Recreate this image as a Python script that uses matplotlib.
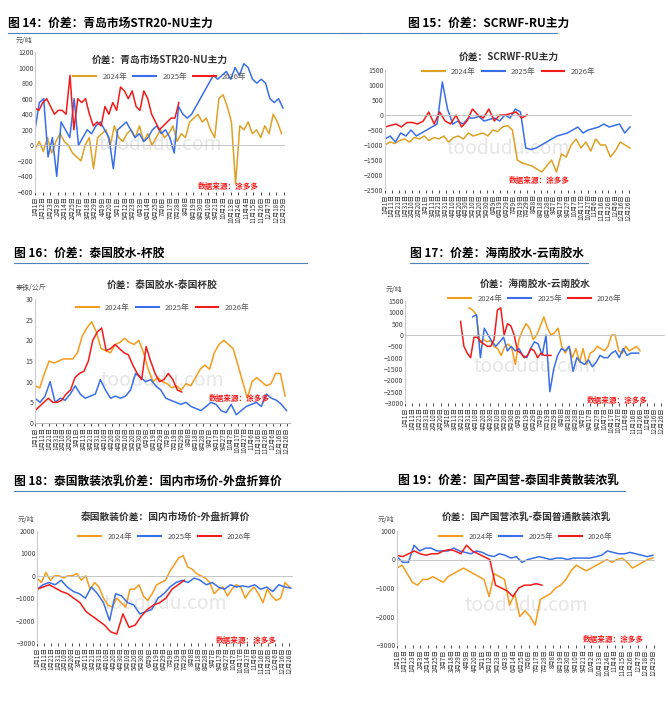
import numpy as np
import pandas as pd
import matplotlib
matplotlib.use("Agg")
import matplotlib.pyplot as plt

plt.rcParams['font.family'] = ['Noto Sans CJK SC', 'DejaVu Sans']

# ---------------- data ----------------
# panel 14: 青岛市场STR20-NU主力 (元/吨)
p14_2024 = [-50, 50, -80, 100, -100, 50, 150, 50, 0, -100, -150, -200, 0, 100, -300, 100, 150, 200, 0, 250,
            100, 50, 150, 200, 100, 250, 50, 150, 0, 100, 200, 100, 150, 250, 50, 150, 100, 300, 350, 400,
            300, 350, 200, 100, 600, 650, 500, 300, -500, 250, 200, 300, 150, 200, 100, 250, 150, 400, 300, 150]
p14_2025 = [200, 550, 600, -150, 100, -400, 300, 200, 100, 600, 0, 100, 200, 150, 250, 300, 200, 100, -300, 200,
            250, 300, 200, 100, 150, 50, 100, 200, 250, 150, 200, 100, -100, 500, 400, 350, 400, 500, 600, 700,
            800, 900, 850, 900, 950, 850, 1000, 900, 1050, 1000, 850, 800, 850, 800, 600, 550, 600, 480]
p14_2026 = [480, 450, 550, 600, 500, 400, 450, 450, 400, 900, 200, 600, 550, 600, 400, 250, 300, 250, 500, 400,
            550, 450, 750, 700, 600, 700, 500, 450, 700, 600, 400, 300, 200, 250, 300, 350, 350, 550]

# panel 15: SCRWF-RU主力
p15_2024 = [-1000, -900, -950, -850, -800, -900, -750, -800, -700, -850, -750, -800, -700, -900, -750, -700,
            -800, -600, -700, -650, -600, -700, -500, -550, -400, -350, -500, -1500, -1600, -1650, -1700,
            -1800, -1900, -1700, -1500, -1900, -1300, -1400, -1000, -800, -1100, -900, -1200, -800, -1000,
            -1000, -1400, -1200, -900, -1000, -1100]
p15_2025 = [-800, -700, -900, -600, -700, -500, -700, -600, -500, -400, -300, 1100, 200, -300, -200, -300,
            -100, -100, -50, -200, -150, -100, -200, 0, -100, 200, 100, -1100, -1150, -1100, -1000, -900,
            -800, -700, -650, -600, -500, -400, -600, -500, -450, -400, -300, -400, -350, -300, -600, -400]
p15_2026 = [-400, -350, -300, -400, -250, -250, -300, -200, 100, -300, 100, -200, -300, 0, -400, -200, 200,
            0, -100, 200, -200, 0, 0, 50, 100, -100, 0]

# panel 16: 泰国胶水-杯胶 (泰铢/公斤)
p16_2024 = [9, 8.5, 12, 15, 14.5, 15, 15.5, 15.5, 15.5, 17, 21, 23, 24.5, 22, 18, 17.5, 17, 19, 19.5, 20.5,
            19.5, 19, 20, 17, 13, 10, 11, 10, 9.5, 8.5, 9, 8, 9.5, 9, 11, 13, 14, 13, 17, 19, 20, 19, 18, 14,
            10, 6, 10, 11, 10, 9, 9.5, 12, 12, 6.5]
p16_2025 = [6, 5, 6.5, 10, 5, 6, 5.5, 7, 9, 7, 6, 6.5, 7, 10.5, 8, 6, 6.5, 6, 6.5, 8, 12, 11, 10, 10.5, 9, 8,
            6, 5.5, 5, 4.5, 5, 4, 3.5, 3, 4, 5, 4.5, 3, 2.5, 4.5, 2, 3, 4, 4.5, 5, 4, 7, 6, 5.5, 4.5, 3]
p16_2026 = [3, 4, 5, 6, 5, 5, 5.5, 7, 8, 11, 12, 12.5, 15, 20, 22, 23, 17.5, 18, 19, 18, 17, 16.5, 14, 12,
            10.5, 18.5, 15, 12, 10, 10.5, 12, 10.5, 8, 7.5]

# panel 17: 海南胶水-云南胶水
p17_2024 = [1200, 1100, 900, -300, -200, -300, -250, -500, -600, -900, -500, -400, -600, -1300, -200, 200,
            500, 300, -200, 0, 400, 800, 300, 0, 100, 300, -500, -800, -500, -1000, -600, -1200, -600, -1300,
            -800, -700, -500, -600, -700, -500, 0, 0, -700, -800, -500, -700, -600, -500, -700]
p17_2025 = [800, 900, -1000, 300, 0, -300, -500, -300, -100, -700, -500, -700, -600, -900, -1000, -600, -300,
            -400, -900, 0, -2500, -1500, -900, -600, -700, -500, -1600, -1000, -1200, -1300, -1100, -1400,
            -1200, -900, -1000, -1000, -800, -700, -1000, -600, -900, -800, -800, -800]
p17_2026 = [600, -500, -800, -1000, -100, -100, -300, -400, -500, -500, -200, 1100, 1200, 0, 500, 400, 0,
            -700, -800, -1000, -900, -600, -700, -1000, -800, -900, -900, -900]

# panel 18: 泰国散装价差
p18_2024 = [-100, -300, 150, -200, 0, 0, -100, 0, 0, 100, -200, 0, -600, -300, -500, -1000, -1300, -1400,
            -1000, -1200, -1400, -600, -600, -400, -900, -1100, -800, -400, -300, -200, 200, 500, 800, 900,
            400, 300, 100, 0, -100, -300, -800, -600, -500, -900, -600, -400, -500, -1000, -700, -500, -800,
            -1200, -600, -900, -1100, -1000, -300, -500]
p18_2025 = [-600, -400, -300, -400, -200, -500, -700, -800, -1000, -500, -800, -1200, -2000, -800, -900,
            -1200, -1300, -1700, -1600, -1500, -1000, -800, -500, -300, -200, -300, -100, -200, -400, -300,
            -500, -600, -400, -500, -450, -500, -400, -600, -500, -700, -400, -500, -550]
p18_2026 = [-600, -500, -400, -550, -700, -800, -1000, -1200, -1600, -1800, -2000, -2200, -2500, -2600,
            -1700, -2300, -2200, -1800, -1500, -1300, -1200, -1000, -600, -400, -200]

# panel 19: 国产国营-泰国非黄散装浓乳
p19_2024 = [-300, -200, -500, -800, -900, -700, -700, -600, -700, -800, -600, -500, -400, -300, -400, -500,
            -600, -700, -1300, -500, -600, -700, -1600, -1200, -2000, -1800, -2000, -2300, -1400, -1300,
            -1200, -1000, -900, -700, -400, -200, -300, -400, -300, -200, -100, 0, -100, 0, 50, -100, -300,
            -200, -100, 0, 50]
p19_2025 = [100, -100, -100, 500, 300, 400, 400, 300, 300, 300, 400, 300, 250, 200, 300, 250, 150, 100, 200,
            150, 50, 100, -100, 0, 50, 100, 50, 0, 50, 50, 0, 50, 50, 50, 50, 100, 150, 300, 250, 200, 200,
            250, 200, 150, 100, 150]
p19_2026 = [150, 100, 200, 300, 200, 150, 200, 200, 300, 350, 300, 200, 500, 300, 200, 100, 0, -900, -1000,
            -1100, -1300, -1000, -900, -900, -850, -900]

ORANGE = '#F39C1E'
GOLD = '#DDA125'
BLUE = '#3A6FE8'
RED = '#F21B1B'

fig = plt.figure(figsize=(6.68, 7.12), dpi=100)
H = 712.0
W = 668.0


def R(l, t, r, b):
    return [l / W, 1 - b / H, (r - l) / W, (b - t) / H]


def date_labels(step):
    days = pd.date_range('2024-01-01', '2024-12-31', freq=f'{step}D')
    return days.dayofyear.values - 1, [f'{d.month}月{d.day}日' for d in days]


def panel(rect, head, head_xy, line_x, inner, title_y, leg_y, ylim, yticks, series, step,
          unit=None, src_xy=(0.62, 0.05)):
    fig.text(head_xy[0] / W, 1 - head_xy[1] / H, head, fontsize=8.5, fontweight='bold', va='bottom')
    fig.add_artist(plt.Line2D([line_x[0] / W, line_x[1] / W], [1 - (head_xy[1] + 3) / H] * 2,
                              color='#4F81BD', lw=0.8))
    ax = fig.add_axes(rect)
    for vals, start, end, col in series:
        x = np.linspace(start, end, len(vals))
        ax.plot(x, vals, color=col, lw=1.1)
    ax.set_xlim(0, 365)
    ax.set_ylim(*ylim)
    ax.set_yticks(yticks)
    ax.tick_params(axis='y', labelsize=5, length=0, pad=1, colors='#444444')
    pos, labs = date_labels(step)
    ax.set_xticks(pos)
    ax.set_xticklabels(labs, rotation=90, fontsize=4.5, color='#333333')
    ax.tick_params(axis='x', length=2, pad=1, width=0.5)
    for s in ['top', 'right']:
        ax.spines[s].set_visible(False)
    ax.spines['left'].set_color('#cccccc')
    ax.spines['bottom'].set_color('#bbbbbb')
    if ylim[0] < 0 < ylim[1]:
        ax.axhline(0, color='#bbbbbb', lw=0.6)
        ax.spines['bottom'].set_visible(False)
    cx = (rect[0] + rect[2] / 2)
    fig.text(cx, 1 - title_y / H, inner, fontsize=7, fontweight='bold', color='#333333',
             ha='center', va='center')
    hs = [plt.Line2D([], [], color=c, lw=1.5) for c in (series[0][3], BLUE, RED)]
    ax.legend(hs, ['2024年', '2025年', '2026年'], loc='center', bbox_to_anchor=(cx, 1 - leg_y / H),
              bbox_transform=fig.transFigure, ncol=3, frameon=False, fontsize=5.5, handlelength=3,
              columnspacing=0.8, labelcolor='#555555')
    if unit:
        ax.annotate(unit, (0, 1), xycoords='axes fraction', xytext=(-14, 5),
                    textcoords='offset points', fontsize=5, color='#555555', ha='left', va='bottom')
    ax.text(0.5, 0.3, 'toodudu.com', transform=ax.transAxes, fontsize=14, color='#e6e6e6',
            ha='center', zorder=0)
    ax.text(src_xy[0], src_xy[1], '数据来源：涂多多', transform=ax.transAxes, fontsize=5.5,
            color=RED, style='italic', fontweight='bold')
    return ax


panel(R(35, 52, 285, 192), '图 14：价差：青岛市场STR20-NU主力', (8, 30), (8, 360),
      '价差：青岛市场STR20-NU主力', 60, 77, (-600, 1200), range(-600, 1201, 200),
      [(p14_2024, 0, 360, GOLD), (p14_2025, 0, 362, BLUE), (p14_2026, 0, 210, RED)], 11,
      unit='元/吨', src_xy=(0.65, 0.02))

panel(R(385, 70, 632, 190), '图 15：价差：SCRWF-RU主力', (408, 30), (340, 557),
      '价差：SCRWF-RU主力', 57, 72, (-2500, 1500), range(-2500, 1501, 500),
      [(p15_2024, 0, 362, GOLD), (p15_2025, 0, 362, BLUE), (p15_2026, 0, 210, RED)], 10,
      src_xy=(0.5, 0.06))

panel(R(35, 299, 290, 423), '图 16：价差：泰国胶水-杯胶', (14, 260), (14, 307),
      '价差：泰国胶水-泰国杯胶', 285, 308, (0, 30), range(0, 31, 5),
      [(p16_2024, 0, 358, ORANGE), (p16_2025, 0, 360, BLUE), (p16_2026, 0, 210, RED)], 10,
      unit='泰铢/公斤', src_xy=(0.68, 0.18))

panel(R(405, 301, 665, 403), '图 17：价差：海南胶水-云南胶水', (410, 260), (410, 588),
      '价差：海南胶水-云南胶水', 284, 299, (-3000, 1500), range(-3000, 1501, 500),
      [(p17_2024, 90, 330, ORANGE), (p17_2025, 95, 328, BLUE), (p17_2026, 78, 205, RED)], 10,
      unit='元/吨', src_xy=(0.7, 0.0))

panel(R(37, 531, 293, 643), '图 18：泰国散装浓乳价差：国内市场价-外盘折算价', (14, 488), (14, 340),
      '泰国散装价差：国内市场价-外盘折算价', 517, 537, (-3000, 2000), range(-3000, 2001, 1000),
      [(p18_2024, 0, 360, ORANGE), (p18_2025, 0, 362, BLUE), (p18_2026, 0, 210, RED)], 10,
      unit='元/吨', src_xy=(0.7, 0.0))

panel(R(397, 531, 655, 645), '图 19：价差：国产国营-泰国非黄散装浓乳', (398, 488), (340, 625),
      '价差：国产国营浓乳-泰国普通散装浓乳', 517, 537, (-3000, 1000), range(-3000, 1001, 1000),
      [(p19_2024, 0, 362, ORANGE), (p19_2025, 0, 362, BLUE), (p19_2026, 0, 205, RED)], 11,
      unit='元/吨', src_xy=(0.72, 0.03))

fig.savefig('out.png', dpi=100)
